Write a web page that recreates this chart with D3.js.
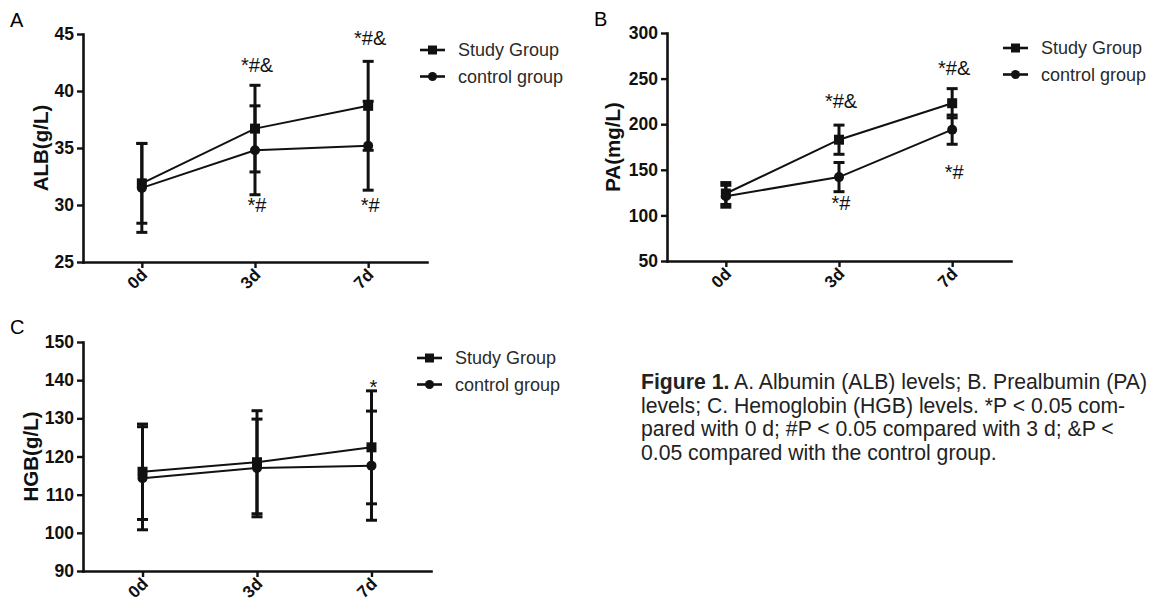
<!DOCTYPE html>
<html><head><meta charset="utf-8">
<script src="https://cdn.jsdelivr.net/npm/d3@7"></script>
<style>body{margin:0;background:#fff}svg{display:block}</style>
</head><body>
<svg id="chart" width="1156" height="606"></svg>
<script>
// ---------- data ----------
const days = ["0d", "3d", "7d"];
const seriesNames = ["Study Group", "control group"];

const albStudy = [31.9, 36.7, 38.7];
const albStudySD = [3.5, 3.8, 3.9];
const albControl = [31.5, 34.8, 35.2];
const albControlSD = [3.9, 3.9, 3.9];

const paStudy = [124, 183, 223];
const paStudySD = [12, 16, 16];
const paControl = [121, 142, 194];
const paControlSD = [12, 16, 16];

const hgbStudy = [116, 118.5, 122.4];
const hgbStudySD = [12.5, 13.5, 14.8];
const hgbControl = [114.3, 117, 117.6];
const hgbControlSD = [13.5, 12.8, 14.3];

const albTicks = [25, 30, 35, 40, 45];
const paTicks = [50, 100, 150, 200, 250, 300];
const hgbTicks = [90, 100, 110, 120, 130, 140, 150];

const albNotes = [
  { day: "3d", value: 42.3, text: "*#&" },
  { day: "7d", value: 44.7, text: "*#&" },
  { day: "3d", value: 30.0, text: "*#" },
  { day: "7d", value: 30.0, text: "*#" }
];
const paNotes = [
  { day: "3d", value: 226, text: "*#&" },
  { day: "7d", value: 262, text: "*#&" },
  { day: "3d", value: 114, text: "*#" },
  { day: "7d", value: 148, text: "*#" }
];
const hgbNotes = [
  { day: "7d", value: 138.3, text: "*" }
];

const captionLines = [
  [["Figure 1.", true], [" A. Albumin (ALB) levels; B. Prealbumin (PA)", false]],
  [["levels; C. Hemoglobin (HGB) levels. *P < 0.05 com-", false]],
  [["pared with 0 d; #P < 0.05 compared with 3 d; &P <", false]],
  [["0.05 compared with the control group.", false]]
];

// ---------- drawing ----------
const svg = d3.select("#chart");
const FONT = "'Liberation Sans', Arial, Helvetica, sans-serif";

function drawPanel(cfg) {
  const g = svg.append("g");
  const x = d3.scalePoint().domain(days).range([cfg.x0, cfg.x1]).padding(0.52);
  const y = d3.scaleLinear().domain([cfg.ticks[0], cfg.ticks[cfg.ticks.length - 1]])
    .range([cfg.yBot, cfg.yTop]);

  // panel letter
  g.append("text").attr("x", cfg.letterX).attr("y", cfg.letterY)
    .attr("font-family", FONT).attr("font-size", 20).text(cfg.letter);

  // y axis
  const ya = g.append("g").attr("transform", `translate(${cfg.x0},0)`)
    .call(d3.axisLeft(y).tickValues(cfg.ticks).tickSize(6).tickSizeOuter(0).tickPadding(3));
  ya.select(".domain").attr("stroke", "#111").attr("stroke-width", 2.6).attr("stroke-linecap", "square");
  ya.selectAll(".tick line").attr("stroke", "#111").attr("stroke-width", 2.4);
  ya.selectAll(".tick text").attr("font-family", FONT).attr("font-size", 17.5)
    .attr("font-weight", "bold").attr("fill", "#111");

  // x axis
  const xa = g.append("g").attr("transform", `translate(0,${cfg.yBot})`)
    .call(d3.axisBottom(x).tickSize(6).tickSizeOuter(0).tickPadding(3));
  xa.select(".domain").attr("stroke", "#111").attr("stroke-width", 2.6).attr("stroke-linecap", "square");
  xa.selectAll(".tick line").attr("stroke", "#111").attr("stroke-width", 2.4);
  xa.selectAll(".tick text")
    .attr("font-family", FONT).attr("font-size", 17).attr("font-weight", "bold").attr("fill", "#111")
    .attr("text-anchor", "end").attr("dy", null).attr("y", null)
    .attr("transform", "translate(6,14) rotate(-45)");

  // y label
  g.append("text")
    .attr("transform", `translate(${cfg.labelX},${(cfg.yTop + cfg.yBot) / 2}) rotate(-90)`)
    .attr("text-anchor", "middle").attr("dominant-baseline", "central")
    .attr("font-family", FONT).attr("font-size", 20.5).attr("font-weight", "bold").attr("fill", "#111")
    .text(cfg.yLabel);

  const series = [
    { name: seriesNames[0], mean: cfg.study, sd: cfg.studySD, shape: "square" },
    { name: seriesNames[1], mean: cfg.control, sd: cfg.controlSD, shape: "circle" }
  ];

  const line = d3.line().x((d, i) => x(days[i])).y(d => y(d));

  series.forEach(s => {
    const eb = g.append("g");
    s.mean.forEach((m, i) => {
      const cx = x(days[i]);
      eb.append("line").attr("x1", cx).attr("x2", cx)
        .attr("y1", y(m - s.sd[i])).attr("y2", y(m + s.sd[i]))
        .attr("stroke", "#111").attr("stroke-width", 3);
      [m - s.sd[i], m + s.sd[i]].forEach(v => {
        eb.append("line").attr("x1", cx - 5.5).attr("x2", cx + 5.5)
          .attr("y1", y(v)).attr("y2", y(v))
          .attr("stroke", "#111").attr("stroke-width", 3);
      });
    });
  });

  series.forEach(s => {
    g.append("path").datum(s.mean).attr("d", line)
      .attr("fill", "none").attr("stroke", "#111").attr("stroke-width", 2);
  });

  series.forEach(s => {
    s.mean.forEach((m, i) => {
      const cx = x(days[i]), cy = y(m);
      if (s.shape === "square") {
        g.append("rect").attr("x", cx - 5).attr("y", cy - 5).attr("width", 10).attr("height", 10)
          .attr("fill", "#111");
      } else {
        g.append("circle").attr("cx", cx).attr("cy", cy).attr("r", 5).attr("fill", "#111");
      }
    });
  });

  // annotations
  cfg.notes.forEach(n => {
    g.append("text").attr("x", x(n.day) + 2).attr("y", y(n.value) + 7.2)
      .attr("text-anchor", "middle").attr("font-family", FONT).attr("font-size", 20)
      .attr("fill", "#111").text(n.text);
  });

  // legend
  series.forEach((s, i) => {
    const ly = cfg.legY + i * 26.5;
    const lg = g.append("g");
    lg.append("line").attr("x1", cfg.legX).attr("x2", cfg.legX + 25)
      .attr("y1", ly).attr("y2", ly).attr("stroke", "#111").attr("stroke-width", 2.6);
    if (s.shape === "square") {
      lg.append("rect").attr("x", cfg.legX + 8).attr("y", ly - 4.5).attr("width", 9).attr("height", 9).attr("fill", "#111");
    } else {
      lg.append("circle").attr("cx", cfg.legX + 12.5).attr("cy", ly).attr("r", 4.5).attr("fill", "#111");
    }
    lg.append("text").attr("x", cfg.legX + 38).attr("y", ly).attr("dominant-baseline", "central")
      .attr("font-family", FONT).attr("font-size", 18).attr("fill", "#2a2a2a").text(s.name);
  });
}

drawPanel({
  letter: "A", letterX: 10, letterY: 27,
  x0: 83, x1: 427, yTop: 34, yBot: 262, labelX: 40, yLabel: "ALB(g/L)",
  ticks: albTicks, study: albStudy, studySD: albStudySD, control: albControl, controlSD: albControlSD,
  notes: albNotes, legX: 420, legY: 50
});
drawPanel({
  letter: "B", letterX: 594, letterY: 26,
  x0: 667, x1: 1011, yTop: 33, yBot: 261, labelX: 612, yLabel: "PA(mg/L)",
  ticks: paTicks, study: paStudy, studySD: paStudySD, control: paControl, controlSD: paControlSD,
  notes: paNotes, legX: 1003, legY: 48
});
drawPanel({
  letter: "C", letterX: 10, letterY: 334,
  x0: 83, x1: 431, yTop: 342, yBot: 571, labelX: 30, yLabel: "HGB(g/L)",
  ticks: hgbTicks, study: hgbStudy, studySD: hgbStudySD, control: hgbControl, controlSD: hgbControlSD,
  notes: hgbNotes, legX: 417, legY: 358
});

// caption
const cap = svg.append("text").attr("font-family", FONT).attr("font-size", 21.2).attr("fill", "#222");
captionLines.forEach((ln, i) => {
  ln.forEach((seg, j) => {
    const t = cap.append("tspan").text(seg[0]).attr("font-weight", seg[1] ? "bold" : "normal");
    if (j === 0) t.attr("x", 641).attr("y", 389 + i * 23.5);
  });
});
</script>
</body></html>
